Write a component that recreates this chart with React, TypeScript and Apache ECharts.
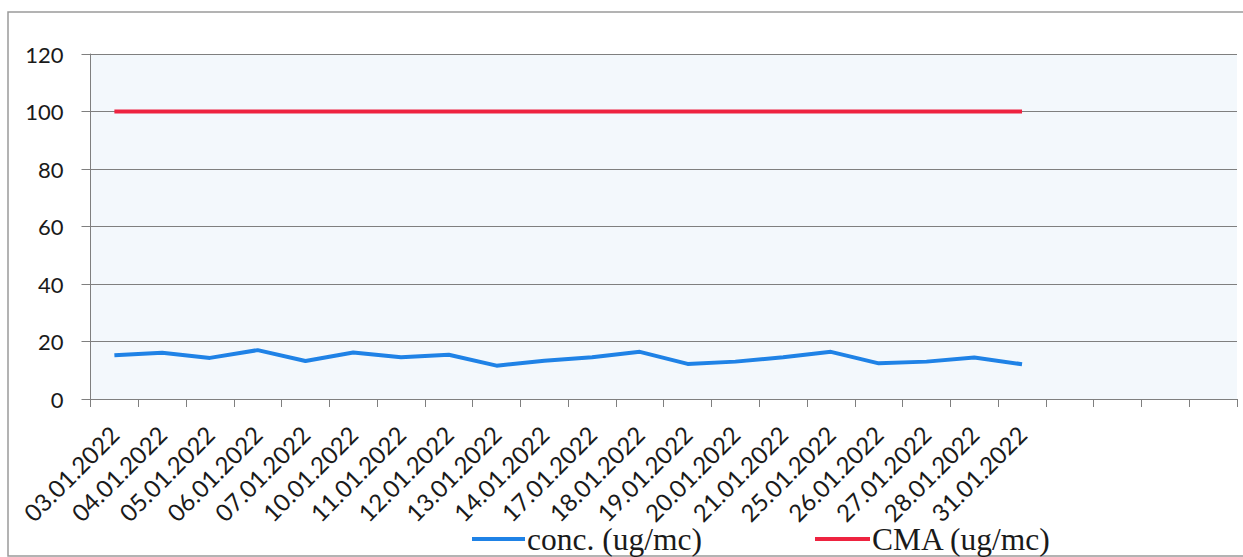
import React, { useEffect, useRef } from "react";
import * as echarts from "echarts";

const categories: string[] = [
  "03.01.2022", "04.01.2022", "05.01.2022", "06.01.2022", "07.01.2022",
  "10.01.2022", "11.01.2022", "12.01.2022", "13.01.2022", "14.01.2022",
  "17.01.2022", "18.01.2022", "19.01.2022", "20.01.2022", "21.01.2022",
  "25.01.2022", "26.01.2022", "27.01.2022", "28.01.2022", "31.01.2022",
  "", "", "", "",
];

const concValues: number[] = [
  15.2, 16.1, 14.3, 17.0, 13.2, 16.2, 14.5, 15.4, 11.6, 13.3,
  14.5, 16.4, 12.2, 13.0, 14.5, 16.4, 12.4, 13.0, 14.4, 12.1,
];

const cmaValues: number[] = [
  100, 100, 100, 100, 100, 100, 100, 100, 100, 100,
  100, 100, 100, 100, 100, 100, 100, 100, 100, 100,
];

const yTicks = { min: 0, max: 120, interval: 20 };

const seriesNames = ["conc. (ug/mc)", "CMA (ug/mc)"];

export default function App() {
  const ref = useRef<HTMLDivElement>(null);

  useEffect(() => {
    if (!ref.current) return;
    const chart = echarts.init(ref.current, undefined, { renderer: "svg" });
    const legendText = {
      fontFamily: "Liberation Serif",
      fontSize: 31.5,
      color: "#1a1a1a",
    };
    chart.setOption({
      animation: false,
      backgroundColor: "#ffffff",
      graphic: [
        {
          type: "rect",
          shape: { x: 8, y: 12, width: 1260, height: 544 },
          style: { fill: "none", stroke: "#9a9a9a", lineWidth: 1.5 },
          silent: true,
        },
      ],
      grid: {
        left: 90.5,
        top: 54,
        right: 6,
        bottom: 158,
        containLabel: false,
        show: true,
        backgroundColor: "#f3f8fc",
        borderWidth: 0,
      },
      legend: [
        {
          data: [seriesNames[0]],
          left: 467,
          top: 518,
          icon: "rect",
          itemWidth: 53,
          itemHeight: 4,
          itemGap: 0,
          textStyle: { ...legendText, padding: [0, 0, 0, -3] },
        },
        {
          data: [seriesNames[1]],
          left: 810,
          top: 518,
          icon: "rect",
          itemWidth: 55,
          itemHeight: 4,
          itemGap: 0,
          textStyle: { ...legendText, padding: [0, 0, 0, -3] },
        },
      ],
      xAxis: {
        type: "category",
        data: categories,
        boundaryGap: true,
        axisLine: { show: true, lineStyle: { color: "#7f7f7f", width: 1 } },
        axisTick: {
          show: true,
          interval: 0,
          length: 8,
          alignWithLabel: false,
          lineStyle: { color: "#7f7f7f" },
        },
        axisLabel: {
          interval: 0,
          rotate: 45,
          margin: 31,
          fontFamily: "Lato",
          fontSize: 24,
          color: "#1a1a1a",
        },
        splitLine: { show: false },
      },
      yAxis: {
        type: "value",
        min: yTicks.min,
        max: yTicks.max,
        interval: yTicks.interval,
        axisLine: { show: true, lineStyle: { color: "#7f7f7f", width: 1 } },
        axisTick: {
          show: true,
          inside: false,
          length: 9,
          lineStyle: { color: "#7f7f7f" },
        },
        axisLabel: {
          margin: 27,
          fontFamily: "Lato",
          fontSize: 22,
          color: "#1a1a1a",
        },
        splitLine: { show: true, lineStyle: { color: "#7f7f7f", width: 1 } },
      },
      series: [
        {
          name: seriesNames[0],
          type: "line",
          data: concValues,
          symbol: "none",
          itemStyle: { color: "#1f82e6" },
          lineStyle: { color: "#1f82e6", width: 4 },
          z: 3,
        },
        {
          name: seriesNames[1],
          type: "line",
          data: cmaValues,
          symbol: "none",
          itemStyle: { color: "#ee2340" },
          lineStyle: { color: "#ee2340", width: 4 },
          z: 3,
        },
      ],
    });
    return () => chart.dispose();
  }, []);

  return (
    <div
      ref={ref}
      style={{ position: "absolute", left: 0, top: 0, width: 1243, height: 557 }}
    />
  );
}
